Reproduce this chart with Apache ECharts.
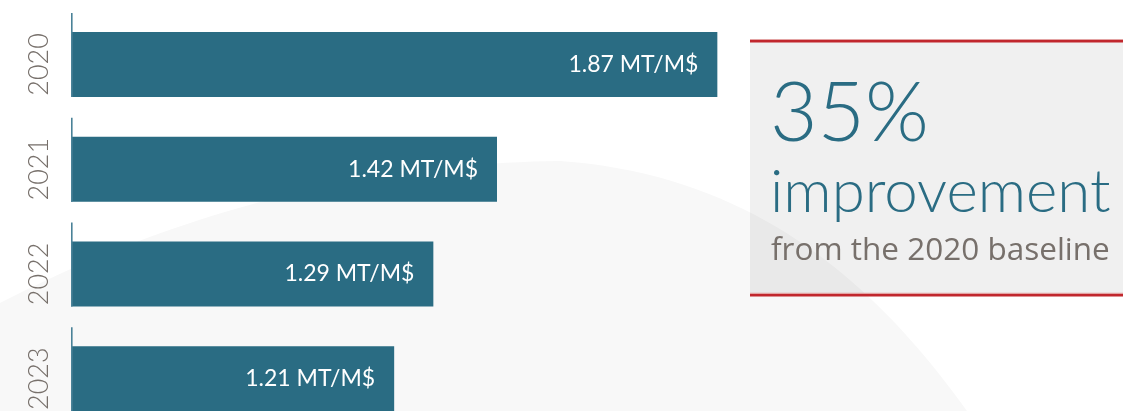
<!DOCTYPE html>
<html>
<head>
<meta charset="utf-8">
<style>
  html, body { margin: 0; padding: 0; background: #ffffff; }
  #chart { width: 1123px; height: 411px; }
</style>
<script src="https://cdn.jsdelivr.net/npm/echarts@6/dist/echarts.min.js"></script>
</head>
<body>
<div id="chart"></div>
<script>
// ---- data ----
const years = ['2020', '2021', '2022', '2023'];
const intensity = [1.87, 1.42, 1.29, 1.21];
const unit = 'MT/M$';
const statValue = '35%';
const statWord = 'improvement';
const statNote = 'from the 2020 baseline';

// ---- style ----
const BLUE = '#2a6c83';
const GREY = '#77706b';
const RED = '#c1272d';
const FONT = 'Lato';
const AXIS_MIN = 0.55;
const AXIS_MAX = 2.0;
const BAR_W = 65;

// decorative background disc outline (sampled cubic curves)
function cubic(p0, p1, p2, p3, n) {
  const pts = [];
  for (let i = 0; i <= n; i++) {
    const t = i / n, u = 1 - t;
    pts.push([
      u*u*u*p0[0] + 3*u*u*t*p1[0] + 3*u*t*t*p2[0] + t*t*t*p3[0],
      u*u*u*p0[1] + 3*u*u*t*p1[1] + 3*u*t*t*p2[1] + t*t*t*p3[1]
    ]);
  }
  return pts;
}
const discPts = [[-20, 312]]
  .concat(cubic([0, 303], [190, 205], [380, 163], [560, 161], 40))
  .concat(cubic([560, 161], [760, 175], [880, 290], [967, 411], 40).slice(1))
  .concat([[990, 440], [-20, 440]]);

const chart = echarts.init(document.getElementById('chart'), null, { renderer: 'canvas' });

// grid width so that the axis range spans from x=71 to the 2020 bar end
const GRID_LEFT = 71;
const GRID_W = Math.round(646 * (AXIS_MAX - AXIS_MIN) / (1.87 - AXIS_MIN));

const option = {
  backgroundColor: '#ffffff',
  animation: false,
  grid: {
    left: GRID_LEFT, width: GRID_W, top: 12, height: 419,
    containLabel: false, outerBoundsMode: 'none'
  },
  xAxis: {
    type: 'value', min: AXIS_MIN, max: AXIS_MAX, show: false
  },
  yAxis: {
    type: 'category', data: years, inverse: true,
    axisLine: { show: false }, axisTick: { show: false }, splitLine: { show: false },
    axisLabel: {
      rotate: 90, margin: 18, color: GREY, fontFamily: FONT, fontWeight: 300, fontSize: 27
    }
  },
  graphic: [
    {
      type: 'polygon', z: -10, silent: true,
      shape: { points: discPts },
      style: { fill: '#f8f8f8' }
    },
    { type: 'rect', z: 1, silent: true, shape: { x: 750, y: 42, width: 400, height: 252 }, style: { fill: 'rgba(0,0,0,0.058)' } },
    { type: 'rect', z: 2, silent: true, shape: { x: 750, y: 39, width: 400, height: 1.2 }, style: { fill: '#e3a3a3' } },
    { type: 'rect', z: 2, silent: true, shape: { x: 750, y: 40, width: 400, height: 2.4 }, style: { fill: RED } },
    { type: 'rect', z: 2, silent: true, shape: { x: 750, y: 292.8, width: 400, height: 1.2 }, style: { fill: '#e3a3a3' } },
    { type: 'rect', z: 2, silent: true, shape: { x: 750, y: 294, width: 400, height: 2.4 }, style: { fill: RED } },
    { type: 'text', z: 3, left: 770, top: 74, style: { text: statValue, fill: BLUE, font: '300 82px Lato' } },
    { type: 'text', z: 3, left: 770, top: 163, style: { text: statWord, fill: BLUE, font: '300 60px Lato' } },
    { type: 'text', z: 3, left: 771, top: 235, style: { text: statNote, fill: GREY, font: '400 31.5px "Open Sans"' } }
  ],
  series: [
    {
      type: 'bar',
      data: intensity,
      barWidth: BAR_W,
      itemStyle: { color: BLUE },
      z: 3,
      label: {
        show: true, position: 'insideRight', distance: 19,
        color: '#ffffff', fontFamily: FONT, fontSize: 23, fontWeight: 400,
        formatter: p => p.value.toFixed(2) + ' ' + unit
      }
    },
    {
      type: 'custom',
      z: 4,
      silent: true,
      data: years.map(y => [AXIS_MIN, y]),
      encode: { x: 0, y: 1 },
      renderItem: function (params, api) {
        const p = api.coord([api.value(0), api.value(1)]);
        const band = api.size([0, 1])[1];
        return {
          type: 'line',
          shape: { x1: p[0] + 0.8, y1: p[1] - band / 2 + 1, x2: p[0] + 0.8, y2: p[1] + BAR_W / 2 },
          style: { stroke: '#4a8298', lineWidth: 1.6 }
        };
      }
    }
  ]
};

chart.setOption(option);
</script>
</body>
</html>
